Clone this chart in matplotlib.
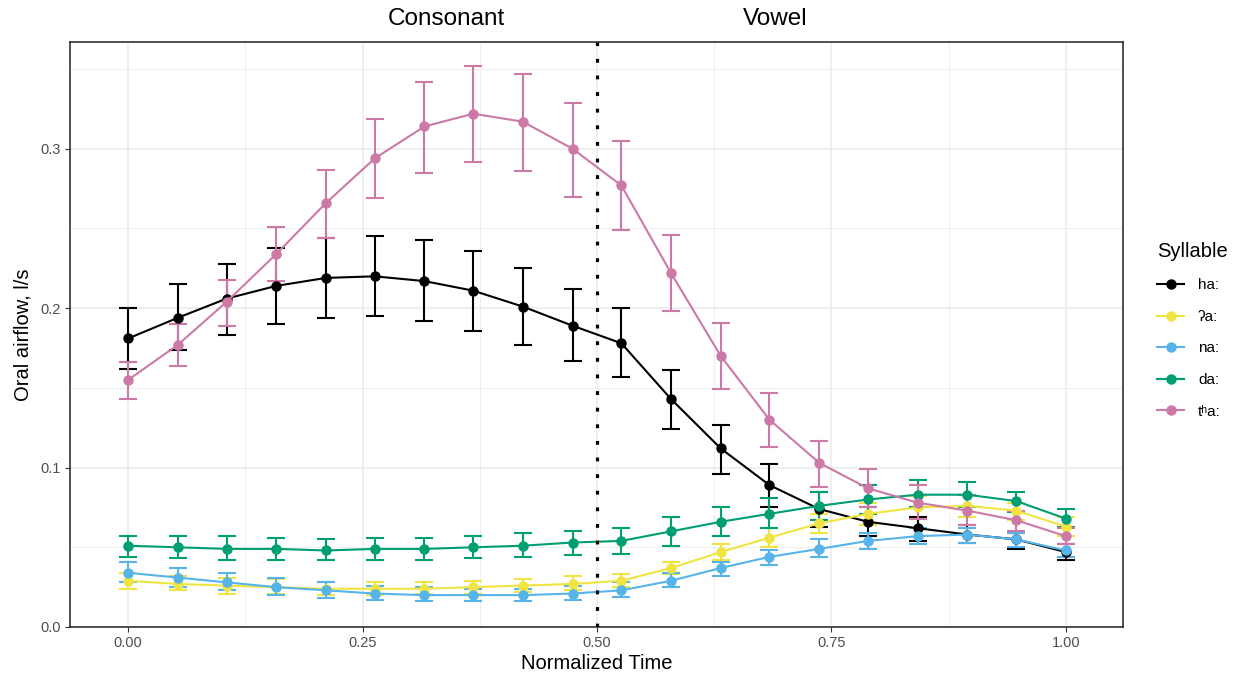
import numpy as np
import matplotlib
matplotlib.use("Agg")
import matplotlib.pyplot as plt
from matplotlib.ticker import MultipleLocator

plt.rcParams['font.family'] = ['Liberation Sans', 'DejaVu Sans']

# normalized time points
time = [0.000, 0.053, 0.105, 0.158, 0.211, 0.263, 0.316, 0.368, 0.421, 0.474,
        0.526, 0.579, 0.632, 0.684, 0.737, 0.789, 0.842, 0.895, 0.947, 1.000]

syllables = ["ha:", "ʔa:", "na:", "da:", "tʰa:"]
colors = ["#000000", "#F0E442", "#56B4E9", "#009E73", "#CC79A7"]

ha = [0.181, 0.194, 0.206, 0.214, 0.219, 0.220, 0.217, 0.211, 0.201, 0.189,
      0.178, 0.143, 0.112, 0.089, 0.074, 0.066, 0.062, 0.058, 0.055, 0.047]
ha_lo = [0.162, 0.174, 0.183, 0.190, 0.194, 0.195, 0.192, 0.186, 0.177, 0.167,
         0.157, 0.124, 0.096, 0.075, 0.063, 0.057, 0.054, 0.053, 0.049, 0.042]
ha_hi = [0.200, 0.215, 0.228, 0.238, 0.244, 0.245, 0.243, 0.236, 0.225, 0.212,
         0.200, 0.161, 0.127, 0.102, 0.085, 0.075, 0.069, 0.064, 0.059, 0.052]

qa = [0.029, 0.027, 0.026, 0.025, 0.024, 0.024, 0.024, 0.025, 0.026, 0.027,
      0.029, 0.037, 0.047, 0.056, 0.065, 0.071, 0.075, 0.076, 0.073, 0.063]
qa_lo = [0.024, 0.023, 0.021, 0.021, 0.020, 0.020, 0.021, 0.021, 0.022, 0.023,
         0.025, 0.033, 0.042, 0.050, 0.059, 0.064, 0.068, 0.069, 0.067, 0.057]
qa_hi = [0.034, 0.032, 0.031, 0.030, 0.028, 0.028, 0.028, 0.029, 0.030, 0.032,
         0.033, 0.041, 0.052, 0.062, 0.071, 0.078, 0.082, 0.083, 0.078, 0.069]

na = [0.034, 0.031, 0.028, 0.025, 0.023, 0.021, 0.020, 0.020, 0.020, 0.021,
      0.023, 0.029, 0.037, 0.044, 0.049, 0.054, 0.057, 0.058, 0.055, 0.048]
na_lo = [0.028, 0.025, 0.023, 0.020, 0.018, 0.017, 0.016, 0.016, 0.016, 0.017,
         0.019, 0.025, 0.032, 0.039, 0.044, 0.049, 0.052, 0.053, 0.050, 0.044]
na_hi = [0.041, 0.037, 0.034, 0.031, 0.028, 0.026, 0.025, 0.024, 0.024, 0.026,
         0.028, 0.034, 0.041, 0.048, 0.055, 0.059, 0.062, 0.062, 0.059, 0.052]

da = [0.051, 0.050, 0.049, 0.049, 0.048, 0.049, 0.049, 0.050, 0.051, 0.053,
      0.054, 0.060, 0.066, 0.071, 0.076, 0.080, 0.083, 0.083, 0.079, 0.068]
da_lo = [0.044, 0.043, 0.042, 0.042, 0.042, 0.042, 0.042, 0.043, 0.044, 0.045,
         0.046, 0.051, 0.057, 0.062, 0.067, 0.071, 0.075, 0.075, 0.072, 0.063]
da_hi = [0.057, 0.057, 0.057, 0.056, 0.055, 0.056, 0.056, 0.057, 0.059, 0.060,
         0.062, 0.069, 0.075, 0.081, 0.085, 0.089, 0.092, 0.091, 0.085, 0.074]

tha = [0.155, 0.177, 0.204, 0.234, 0.266, 0.294, 0.314, 0.322, 0.317, 0.300,
       0.277, 0.222, 0.170, 0.130, 0.103, 0.087, 0.078, 0.073, 0.067, 0.057]
tha_lo = [0.143, 0.164, 0.189, 0.217, 0.244, 0.269, 0.285, 0.292, 0.286, 0.270,
          0.249, 0.198, 0.149, 0.113, 0.088, 0.075, 0.068, 0.064, 0.060, 0.052]
tha_hi = [0.166, 0.190, 0.218, 0.251, 0.287, 0.319, 0.342, 0.352, 0.347, 0.329,
          0.305, 0.246, 0.191, 0.147, 0.117, 0.099, 0.089, 0.083, 0.073, 0.062]

series = [(ha, ha_lo, ha_hi), (qa, qa_lo, qa_hi), (na, na_lo, na_hi),
          (da, da_lo, da_hi), (tha, tha_lo, tha_hi)]

fig = plt.figure(figsize=(12.39, 6.78), dpi=100)
ax = fig.add_axes([70/1239, 1-627/678, (1123-70)/1239, (627-42)/678])

x = np.array(time)
# error bars first, then lines + points on top
for (m, lo, hi), c in zip(series, colors):
    m = np.array(m); lo = np.array(lo); hi = np.array(hi)
    ax.errorbar(x, m, yerr=[m-lo, hi-m], fmt='none', ecolor=c, elinewidth=1.5,
                capsize=6.5, capthick=1.5, zorder=2)
for (m, lo, hi), c, lab in zip(series, colors, syllables):
    ax.plot(x, m, color=c, lw=1.5, marker='o', ms=6.5, label=lab, zorder=3)

ax.axvline(0.5, color='black', lw=2.3, linestyle=(0, (1.2, 4.0)), zorder=5)

ax.set_xlim(-0.062, 1.061)
ax.set_ylim(0, 0.367)
ax.xaxis.set_minor_locator(MultipleLocator(0.125))
ax.yaxis.set_minor_locator(MultipleLocator(0.05))
ax.set_xticks([0, 0.25, 0.5, 0.75, 1.0])
ax.set_xticklabels(["0.00", "0.25", "0.50", "0.75", "1.00"])
ax.set_yticks([0, 0.1, 0.2, 0.3])
ax.set_yticklabels(["0.0", "0.1", "0.2", "0.3"])
ax.grid(which='major', color='#EBEBEB', lw=1.1, zorder=0)
ax.grid(which='minor', color='#EBEBEB', lw=0.6, zorder=0)
ax.set_axisbelow(True)
ax.tick_params(which='major', length=3.5, width=0.8, color='#333333',
               labelsize=10.5, labelcolor='#4D4D4D', pad=3)
ax.tick_params(which='minor', length=0)
for s in ax.spines.values():
    s.set_color('#222222')
    s.set_linewidth(1.1)

ax.set_xlabel("Normalized Time", fontsize=14.5, labelpad=3)
ax.set_ylabel("Oral airflow, l/s", fontsize=14.5, labelpad=6)

ax.text(0.339, 1.02, "Consonant", transform=ax.get_xaxis_transform(),
        ha='center', va='bottom', fontsize=17.5, clip_on=False)
ax.text(0.69, 1.02, "Vowel", transform=ax.get_xaxis_transform(),
        ha='center', va='bottom', fontsize=17.5, clip_on=False)

leg = ax.legend(loc='upper left', bbox_to_anchor=(1143/1239, 1-228/678),
                bbox_transform=fig.transFigure, frameon=False, title="Syllable",
                fontsize=11, title_fontsize=14.5, handlelength=1.8,
                handletextpad=0.9, labelspacing=1.15, alignment='left')

fig.savefig("out.png", dpi=100)
